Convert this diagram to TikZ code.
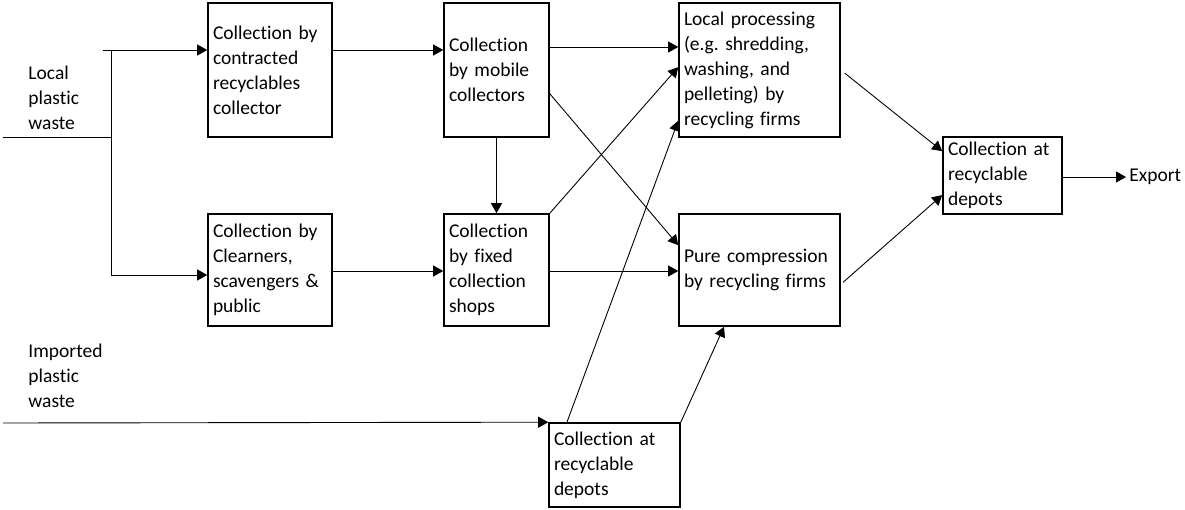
\documentclass[tikz,border=0pt]{standalone}
\usepackage{fontspec}
\setmainfont{Carlito}[Ligatures=NoCommon]
\usetikzlibrary{arrows.meta}

\begin{document}
\frenchspacing
\begin{tikzpicture}[x=1pt, y=-1pt, >={Triangle[length=10pt,width=11pt]}, line width=0.9pt,
        box/.style={draw, line width=1.6pt, inner sep=5pt, align=left,
            font=\fontsize{19.5}{25}\selectfont},
        lbl/.style={anchor=west, align=left, inner sep=3pt,
            font=\fontsize{19.5}{25}\selectfont}]
    \useasboundingbox (0,0) rectangle (1185,510);

    % boxes
    \node[box, minimum width=124pt, minimum height=134pt, text width=114pt] (contract) at (270,70)
        {Collection by\\contracted\\recyclables\\collector};
    \node[box, minimum width=124pt, minimum height=112pt, text width=114pt] (clean) at (270,270)
        {Collection by\\Clearners,\\scavengers \&\\public};
    \node[box, minimum width=105pt, minimum height=134pt, text width=95pt] (mobile) at (496.5,70)
        {Collection\\by mobile\\collectors};
    \node[box, minimum width=105pt, minimum height=112pt, text width=95pt] (fixed) at (496.5,270)
        {Collection\\by fixed\\collection\\shops};
    \node[box, minimum width=161pt, minimum height=134pt, text width=151pt] (local) at (759.5,70)
        {Local processing\\(e.g. shredding,\\washing, and\\pelleting) by\\recycling firms};
    \node[box, minimum width=161pt, minimum height=112pt, text width=151pt] (press) at (759.5,270)
        {Pure compression\\by recycling firms};
    \node[box, minimum width=119pt, minimum height=77pt, text width=109pt] (depotR) at (1002.5,175.5)
        {Collection at\\recyclable\\depots};
    \node[box, minimum width=131pt, minimum height=84pt, text width=121pt] (depotB) at (614.5,465)
        {Collection at\\recyclable\\depots};

    % inputs and output
    \node[lbl] (localtxt) at (25,97.5) {Local\\plastic\\waste};
    \node[lbl] (imptxt) at (25,376) {Imported\\plastic\\waste};
    \node[lbl] (export) at (1126,177) {Export};

    \coordinate (localin) at (3,137);
    \coordinate (jtop) at (103,50);
    \coordinate (jmid) at (111,137);
    \coordinate (jbot) at (111,275);
    \coordinate (impin) at (3,423);

    \draw (localin) -- (jmid);
    \draw (jmid |- jtop) -- (jbot);
    \draw[->] (jtop) -- (jtop -| contract.west);
    \draw[->] (jbot) -- (jbot -| clean.west);
    \draw[->] (impin) -- (depotB.north west);

    % flows
    \draw[->] (contract.east |- jtop) -- (mobile.west |- jtop);
    \draw[->] (clean.east |- 0,271) -- (fixed.west |- 0,271);
    \draw[->] (mobile.south) -- (fixed.north);
    \draw[->] (mobile.east |- 0,47) -- (local.west |- 0,47);
    \draw[->] (fixed.north east) -- (local.178);
    \draw[->] (depotB.138) -- (local.212);
    \draw[->] (mobile.-24) -- (press.163);
    \draw[->] (fixed.east |- 0,271) -- (press.west |- 0,271);
    \draw[->] (depotB.north east) -- (press.238);
    \draw[->, shorten <=5pt] (local.east) -- (depotR.158);
    \draw[->, shorten <=3pt] (press.-10) -- (depotR.198);
    \draw[->] (depotR.east |- export) -- (export.west);
\end{tikzpicture}
\end{document}
